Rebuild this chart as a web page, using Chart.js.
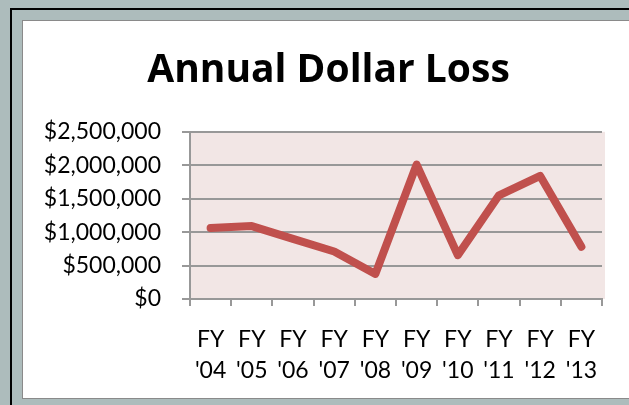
<!DOCTYPE html>
<html>
<head>
<meta charset="utf-8">
<script src="https://cdn.jsdelivr.net/npm/chart.js@4/dist/chart.umd.min.js"></script>
<style>
  html, body { margin: 0; padding: 0; }
  body { width: 629px; height: 405px; overflow: hidden; background: #adbcbc; position: relative; }
  .frame { position: absolute; left: 10px; top: 8px; width: 700px; height: 500px;
           border-left: 2px solid #000; border-top: 2px solid #000; background: #adbcbc; }
  .panel { position: absolute; left: 22px; top: 20px; width: 620px; height: 377px;
           background: #fff; border: 1px solid #8a8a8a; }
  canvas { position: absolute; left: 0; top: 0; }
</style>
</head>
<body>
<div class="frame"></div>
<div class="panel">
  <canvas id="chart" width="606" height="377" style="width:606px;height:377px"></canvas>
</div>
<script>
const categories = ["FY '04", "FY '05", "FY '06", "FY '07", "FY '08", "FY '09", "FY '10", "FY '11", "FY '12", "FY '13"];
const lossValues = [1060000, 1090000, 900000, 710000, 375000, 2010000, 655000, 1550000, 1840000, 780000];
const yTicks = [0, 500000, 1000000, 1500000, 2000000, 2500000];

const gridGray = "#989898";

// pink plot area like the excel chart
const plotBg = {
  id: "plotBg",
  beforeDraw(chart) {
    const { ctx, chartArea } = chart;
    ctx.save();
    ctx.fillStyle = "#f2e6e5";
    ctx.fillRect(chartArea.left, chartArea.top, chartArea.right - chartArea.left + 3, chartArea.bottom - chartArea.top);
    ctx.restore();
  }
};

// excel centres the title a bit further right than chart.js does
const titleShift = {
  id: "titleShift",
  afterLayout(chart) {
    const t = chart.titleBlock;
    if (t) { t.left += 16; t.right += 16; }
  }
};

const ctx = document.getElementById("chart").getContext("2d");

new Chart(ctx, {
  type: "line",
  data: {
    labels: categories.map(c => c.split(" ")),
    datasets: [{
      data: lossValues,
      borderColor: "#c0504d",
      borderWidth: 8,
      borderCapStyle: "round",
      borderJoinStyle: "round",
      pointRadius: 0,
      tension: 0
    }]
  },
  options: {
    responsive: false,
    animation: false,
    devicePixelRatio: 1,
    layout: { padding: { left: 0, right: 27, top: 0, bottom: 0 } },
    plugins: {
      legend: { display: false },
      tooltip: { enabled: false },
      title: {
        display: true,
        text: "Annual Dollar Loss",
        color: "#000",
        font: { family: "'Open Sans'", size: 39, weight: "bold", lineHeight: 1.2 },
        padding: { top: 26, bottom: 38 }
      }
    },
    scales: {
      x: {
        offset: true,
        grid: { offset: true, drawOnChartArea: false, color: gridGray, lineWidth: 2, tickLength: 7 },
        border: { display: true, color: gridGray, width: 2 },
        ticks: {
          color: "#000",
          maxRotation: 0,
          autoSkip: false,
          padding: 18,
          font: { family: "Lato", size: 23, lineHeight: 1.35 }
        },
        afterFit(scale) { scale.height = 99; }
      },
      y: {
        min: 0,
        max: 2500000,
        afterBuildTicks(scale) { scale.ticks = yTicks.map(v => ({ value: v })); },
        grid: { color: gridGray, lineWidth: 2, tickLength: 8 },
        border: { display: true, color: gridGray, width: 2 },
        ticks: {
          color: "#000",
          padding: 21,
          font: { family: "Lato", size: 23 },
          callback: v => "$" + v.toLocaleString("en-US")
        },
        afterFit(scale) { scale.width = 167; }
      }
    }
  },
  plugins: [plotBg, titleShift]
});
</script>
</body>
</html>
